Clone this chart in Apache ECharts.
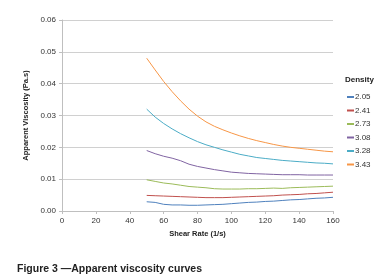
<!DOCTYPE html>
<html><head><meta charset="utf-8">
<script src="https://cdn.jsdelivr.net/npm/echarts@6/dist/echarts.min.js"></script>
<style>html,body{margin:0;padding:0;background:#fff}#c{width:381px;height:279px}</style>
</head><body><div id="c"></div>
<script>
const shearRate = [50,55,60,65,70,75,80,85,90,95,100,105,110,115,120,125,130,135,140,145,150,155,160];
const densities = ['2.05','2.41','2.73','3.08','3.28','3.43'];
const d205 = [0.0029,0.0027,0.0021,0.0019,0.0019,0.0018,0.0018,0.0019,0.0020,0.0021,0.0023,0.0025,0.0027,0.0028,0.0030,0.0031,0.0033,0.0035,0.0036,0.0038,0.0040,0.0041,0.0043];
const d241 = [0.0049,0.0048,0.0047,0.0046,0.0045,0.0044,0.0043,0.0042,0.0042,0.0042,0.0043,0.0044,0.0045,0.0046,0.0047,0.0048,0.0050,0.0051,0.0052,0.0054,0.0055,0.0057,0.0059];
const d273 = [0.0098,0.0093,0.0088,0.0085,0.0081,0.0077,0.0075,0.0073,0.0070,0.0069,0.0069,0.0069,0.0070,0.0070,0.0071,0.0072,0.0071,0.0073,0.0074,0.0075,0.0076,0.0077,0.0078];
const d308 = [0.0190,0.0180,0.0172,0.0166,0.0158,0.0147,0.0140,0.0135,0.0130,0.0126,0.0122,0.0120,0.0118,0.0117,0.0116,0.0115,0.0114,0.0114,0.0114,0.0113,0.0113,0.0113,0.0113];
const d328 = [0.0320,0.0295,0.0275,0.0258,0.0243,0.0230,0.0218,0.0208,0.0200,0.0192,0.0185,0.0178,0.0173,0.0168,0.0165,0.0162,0.0159,0.0157,0.0155,0.0153,0.0151,0.0150,0.0148];
const d343 = [0.0480,0.0443,0.0407,0.0375,0.0346,0.0320,0.0298,0.0280,0.0266,0.0255,0.0245,0.0236,0.0228,0.0221,0.0215,0.0209,0.0204,0.0200,0.0197,0.0194,0.0191,0.0188,0.0186];
const seriesValues = [d205,d241,d273,d308,d328,d343];
const colors = ['#4F81BD','#C0504D','#9BBB59','#8064A2','#4BACC6','#F79646'];
const xTicks = [0,20,40,60,80,100,120,140,160];
const yTicks = [0,0.01,0.02,0.03,0.04,0.05,0.06];

const font = 'Liberation Sans, Arial, sans-serif';
const chart = echarts.init(document.getElementById('c'), null, {renderer:'canvas'});
chart.setOption({
  animation:false,
  color: colors,
  grid:{left:62,right:48,top:20,bottom:68,containLabel:false},
  title:{text:'Figure 3 \u2014Apparent viscosity curves',left:12,top:258.5,
    textStyle:{fontFamily:font,fontSize:10.5,fontWeight:'bold',color:'#222'}},
  graphic:[{type:'text',left:345,top:75.5,style:{text:'Density',fontFamily:font,fontSize:8,fontWeight:'bold',fill:'#222'}}],
  legend:{orient:'vertical',left:342,top:88,itemWidth:7,itemHeight:2,itemGap:5.5,
    icon:'rect',textStyle:{fontFamily:font,fontSize:8,color:'#333',padding:[0,0,0,-4]},
    data:densities},
  xAxis:{type:'value',min:xTicks[0],max:xTicks[xTicks.length-1],interval:20,
    name:'Shear Rate (1/s)',nameLocation:'middle',nameGap:17,
    nameTextStyle:{fontFamily:font,fontSize:7.5,fontWeight:'bold',color:'#222'},
    axisLine:{show:true,lineStyle:{color:'#bfbfbf'}},
    axisTick:{show:true,length:3,lineStyle:{color:'#bfbfbf'}},
    axisLabel:{fontFamily:font,fontSize:8,color:'#333',margin:6},
    splitLine:{show:false}},
  yAxis:{type:'value',min:yTicks[0],max:yTicks[yTicks.length-1],interval:0.01,
    name:'Apparent Viscosity (Pa.s)',nameLocation:'middle',nameGap:27,
    nameTextStyle:{fontFamily:font,fontSize:7.5,fontWeight:'bold',color:'#222'},
    axisLine:{show:true,lineStyle:{color:'#bfbfbf'}},
    axisTick:{show:true,length:3,lineStyle:{color:'#bfbfbf'}},
    axisLabel:{fontFamily:font,fontSize:8,color:'#333',margin:6,formatter:v=>v.toFixed(2)},
    splitLine:{show:true,lineStyle:{color:'#d0d0d0'}}},
  series: densities.map((name,i)=>({
    name, type:'line', showSymbol:false, smooth:false,
    data: shearRate.map((x,j)=>[x, seriesValues[i][j]]),
    lineStyle:{width:1,color:colors[i]}, itemStyle:{color:colors[i]}
  }))
});
</script></body></html>
